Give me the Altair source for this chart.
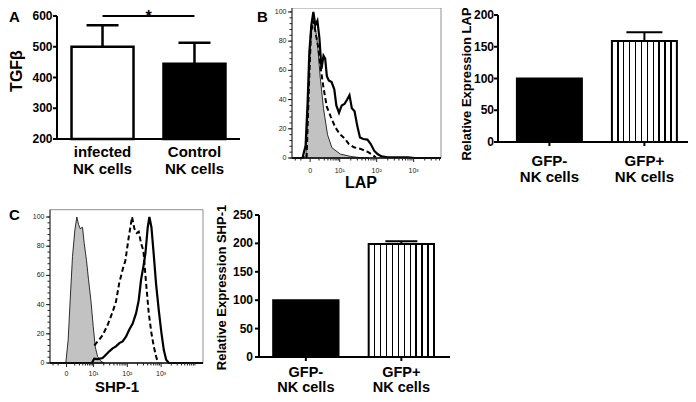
import math
import altair as alt
import pandas as pd

FONT = "Liberation Sans"
W, H = 680, 386

# ---------------- data ----------------
A_LABELS = ["infected\nNK cells", "Control\nNK cells"]
A_VALUES = [500, 445]
A_ERRORS = [70, 68]
A_SIG_LEVEL = 600
A_Y_TICKS = [200, 300, 400, 500, 600]

GFP_LABELS = ["GFP-\nNK cells", "GFP+\nNK cells"]
B_VALUES = [100, 159]
B_ERRORS = [0, 14]
B_Y_TICKS = [0, 50, 100, 150, 200]
C_VALUES = [100, 199]
C_ERRORS = [0, 5]
C_Y_TICKS = [0, 50, 100, 150, 200, 250]

# histogram x in display decades (0 -> 0.2, 10^1 -> 1, 10^2 -> 2, 10^3 -> 3)
HIST_TICKS = [0.2, 1, 2, 3]
HIST_TICK_LABELS = ["0", "10¹", "10²", "10³"]
HIST_Y_TICKS = [0, 20, 40, 60, 80, 100]
HIST_Y_MINOR = list(range(0, 101, 4))

# Panel B histogram (LAP)
B_GRAY_D = [-0.29, 0.0, 0.087, 0.151, 0.196, 0.242, 0.288, 0.333, 0.397, 0.470, 0.562,
            0.671, 0.790, 1.018, 1.292, 1.566, 1.8]
B_GRAY_V = [0, 0, 1.6, 38, 72, 93, 98, 91, 79, 56, 34, 16, 7, 2.7, 1.1, 0.2, 0]
B_DASH_D = [0.105, 0.169, 0.224, 0.288, 0.361, 0.425, 0.489, 0.562, 0.653, 0.763, 0.881,
            1.0, 1.128, 1.247, 1.384, 1.566, 1.749, 1.886, 1.977]
B_DASH_V = [0, 50, 86, 94, 84, 75, 61, 48, 35, 28, 21, 16.5, 13.5, 9.6, 7.3, 6.2, 4.3, 2.1, 0.5]
B_SOLID_D = [-0.29, -0.005, 0.078, 0.132, 0.178, 0.233, 0.288, 0.342, 0.397, 0.452, 0.507,
             0.562, 0.607, 0.653, 0.708, 0.781, 0.854, 0.909, 0.982, 1.055, 1.128, 1.201,
             1.265, 1.329, 1.402, 1.475, 1.548, 1.639, 1.749, 1.840, 1.932, 2.023, 2.132,
             2.297, 2.845, 3.03, 3.74]
B_SOLID_V = [0, 0, 8.5, 38, 72, 91, 100, 91, 94, 82, 61, 70, 68, 56, 53, 52, 47, 36, 31, 36,
             37, 40, 43, 34, 32, 22, 14, 13, 12.6, 9.6, 5, 2.7, 1.1, 0.5, 0.5, 0, 0]

# Panel C histogram (SHP-1)
C_GRAY_D = [-0.29, 0.178, 0.248, 0.307, 0.376, 0.446, 0.505, 0.554, 0.604, 0.673, 0.723,
            0.792, 0.851, 0.921, 0.990, 1.05, 1.119, 1.218, 1.317]
C_GRAY_V = [0, 0, 16, 43, 73, 91, 100, 95, 92, 93, 82, 70, 57, 43, 25, 11, 4.5, 1.1, 0]
C_DASH_D = [1.02, 1.168, 1.267, 1.416, 1.564, 1.663, 1.762, 1.861, 1.941, 2.04, 2.139,
            2.208, 2.277, 2.337, 2.406, 2.475, 2.554, 2.634, 2.713, 2.782, 2.851, 2.911]
C_DASH_V = [12, 16, 19, 26, 35, 42, 55, 64, 70, 86, 100, 92, 89, 90, 82, 77, 55, 34, 20.5,
            11.4, 4.5, 0]
C_SOLID_D = [-0.29, 0.95, 1.02, 1.119, 1.267, 1.366, 1.465, 1.564, 1.663, 1.762, 1.861,
             1.960, 2.059, 2.158, 2.257, 2.337, 2.406, 2.475, 2.535, 2.604, 2.653, 2.713,
             2.772, 2.851, 2.931, 3.010, 3.079, 3.149, 3.228, 4.24]
C_SOLID_V = [0, 0, 3, 2.7, 3.4, 5.7, 8, 10, 11.4, 13.6, 14.8, 18, 23, 27, 34, 43, 57, 66,
             75, 93, 100, 93, 77, 54, 36, 20.5, 9, 2.3, 0, 0]

B_HIST_X_DOMAIN = [-0.29, 3.74]
B_HIST_Y_DOMAIN = [0, 102.7]
C_HIST_X_DOMAIN = [-0.29, 4.24]
C_HIST_Y_DOMAIN = [0, 105]


# ---------------- helpers ----------------
def hist_minor_x(x_max):
    vals = [-0.2, -0.05] + [0.2 + 0.8 * math.log10(m) for m in range(2, 10)]
    for k in (1, 2, 3):
        vals += [k + math.log10(m) for m in range(2, 10)]
    vals.append(4)
    return [round(v, 4) for v in vals if v < x_max]


def stripes(n=11, w=0.022):
    stops = [alt.GradientStop(offset=0, color="white")]
    for k in range(1, n):
        c = k / n
        stops += [alt.GradientStop(offset=c - w / 2, color="white"),
                  alt.GradientStop(offset=c - w / 2, color="black"),
                  alt.GradientStop(offset=c + w / 2, color="black"),
                  alt.GradientStop(offset=c + w / 2, color="white")]
    stops.append(alt.GradientStop(offset=1, color="white"))
    return alt.LinearGradient(gradient="linear", stops=stops, x1=0, x2=1, y1=0, y2=0)


ONE = alt.Data(values=[{}])


def free_text(t, x, y, size, angle=0, align="center", baseline="middle"):
    return alt.Chart(ONE).mark_text(
        text=t, font=FONT, fontSize=size, fontWeight="bold", color="black",
        angle=angle, align=align, baseline=baseline).encode(x=alt.value(x), y=alt.value(y))


def bar_axes(xs, ys, cats, x_rng, y_dom, y_ticks, tick_len, label_x, x_ticks, xlab_y, line_h,
             xlab_size, title, title_x, title_y, title_size):
    """Axis lines, ticks and labels drawn as marks through the panel scales."""
    Xc = lambda: alt.X("cat:N", sort=cats, scale=xs, axis=None)
    Yv = lambda f="v:Q": alt.Y(f, scale=ys, axis=None)
    base_df = pd.DataFrame({"v": [y_dom[0]], "top": [y_dom[1]]})
    layers = [
        alt.Chart(base_df).mark_rule(color="black", strokeWidth=2).encode(
            x=alt.value(x_rng[0]), y=Yv(), y2="top:Q"),
        alt.Chart(base_df).mark_rule(color="black", strokeWidth=2).encode(
            x=alt.value(x_rng[0] - 1), x2=alt.value(x_rng[1]), y=Yv()),
    ]
    tick_df = pd.DataFrame({"v": y_ticks})
    layers.append(alt.Chart(tick_df).mark_rule(color="black", strokeWidth=2).encode(
        x=alt.value(x_rng[0] - tick_len), x2=alt.value(x_rng[0]), y=Yv()))
    layers.append(alt.Chart(tick_df).mark_text(
        font=FONT, fontSize=12, fontWeight="bold", color="black", align="right",
        baseline="middle").encode(x=alt.value(label_x), y=Yv(), text="v:Q"))
    cat_df = pd.DataFrame({"cat": cats, "v": [y_dom[0]] * len(cats)})
    if x_ticks:
        layers.append(alt.Chart(cat_df).mark_tick(
            orient="vertical", size=4, thickness=2, color="black", opacity=1, yOffset=2).encode(
            x=Xc(), y=Yv()))
    layers.append(alt.Chart(cat_df).mark_text(
        font=FONT, fontSize=xlab_size, fontWeight="bold", color="black", align="center",
        baseline="top", lineBreak="\n", lineHeight=line_h).encode(
        x=Xc(), y=alt.value(xlab_y), text="cat:N"))
    layers.append(free_text(title, title_x, title_y, title_size, angle=270))
    return layers


# ---------------- Panel A ----------------
def panel_a():
    df = pd.DataFrame({"cat": A_LABELS, "value": A_VALUES, "err": A_ERRORS})
    xs = alt.Scale(domain=A_LABELS, range=[49, 232], paddingInner=0.326, paddingOuter=0.158)
    ys = alt.Scale(domain=[200, 600], range=[131, 8], zero=False, nice=False)
    Xc = lambda: alt.X("cat:N", sort=A_LABELS, scale=xs, axis=None)
    fills = alt.Fill("cat:N", scale=alt.Scale(domain=A_LABELS, range=["white", "black"]),
                     legend=None)
    err_base = alt.Chart(df).transform_calculate(top="datum.value + datum.err")
    err = err_base.mark_rule(color="black", strokeWidth=2.5).encode(
        x=Xc(), y=alt.Y("value:Q", scale=ys, axis=None), y2="top:Q")
    cap = err_base.mark_tick(color="black", size=32, thickness=2.5, opacity=1).encode(
        x=Xc(), y=alt.Y("top:Q", scale=ys, axis=None))
    bars = alt.Chart(df).mark_bar(stroke="black", strokeWidth=2.5).encode(
        x=Xc(), y=alt.Y("value:Q", scale=ys, axis=None), y2=alt.datum(200), fill=fills)
    sig_df = pd.DataFrame({"cat": A_LABELS, "y": [A_SIG_LEVEL] * 2})
    sig = alt.Chart(sig_df).mark_line(color="black", strokeWidth=2).encode(
        x=Xc(), y=alt.Y("y:Q", scale=ys, axis=None))
    star = alt.Chart(sig_df.iloc[:1]).mark_text(
        text="*", dx=46, dy=-7.5, fontSize=16, fontWeight="bold", font=FONT,
        baseline="top", color="black").encode(
        x=Xc(), y=alt.Y("y:Q", scale=ys, axis=None))
    axes = bar_axes(xs, ys, A_LABELS, [49, 232], [200, 600], A_Y_TICKS, 4, 44.5, False, 137, 17,
                    15, "TGFβ", 9, 63, 16)
    return alt.layer(err, cap, bars, sig, star, *axes)


# ---------------- GFP bar panels ----------------
def gfp_panel(values, errors, y_dom, y_ticks, x_rng, y_rng, align, title, title_x, title_y,
              cap_size, tick_len, label_x, xlab_y, line_h, xlab_size):
    df = pd.DataFrame({"cat": GFP_LABELS, "value": values, "err": errors})
    xs = alt.Scale(domain=GFP_LABELS, range=x_rng, paddingInner=0.316, paddingOuter=0.158,
                   align=align)
    ys = alt.Scale(domain=y_dom, range=y_rng, zero=True, nice=False)
    Xc = lambda: alt.X("cat:N", sort=GFP_LABELS, scale=xs, axis=None)
    base = alt.Chart(df)
    err_base = base.transform_filter("datum.err > 0").transform_calculate(
        top="datum.value + datum.err")
    err = err_base.mark_rule(color="black", strokeWidth=2).encode(
        x=Xc(), y=alt.Y("value:Q", scale=ys, axis=None), y2="top:Q")
    cap = err_base.mark_tick(color="black", size=cap_size, thickness=2, opacity=1).encode(
        x=Xc(), y=alt.Y("top:Q", scale=ys, axis=None))
    neg = base.transform_filter(
        alt.FieldEqualPredicate(field="cat", equal=GFP_LABELS[0])).mark_bar(
        fill="black", stroke="black", strokeWidth=2).encode(
        x=Xc(), y=alt.Y("value:Q", scale=ys, axis=None), y2=alt.datum(0))
    pos = base.transform_filter(
        alt.FieldEqualPredicate(field="cat", equal=GFP_LABELS[1])).mark_bar(
        fill=stripes(), stroke="black", strokeWidth=2).encode(
        x=Xc(), y=alt.Y("value:Q", scale=ys, axis=None), y2=alt.datum(0))
    axes = bar_axes(xs, ys, GFP_LABELS, x_rng, y_dom, y_ticks, tick_len, label_x, True, xlab_y,
                    line_h, xlab_size, title, title_x, title_y, 13)
    return alt.layer(err, cap, neg, pos, *axes)


# ---------------- histogram panels ----------------
def hist_panel(x_dom, x_rng, y_dom, y_rng, gray, dash, solid, title, title_x, title_y, xlab_dy,
               title_size):
    xs = alt.Scale(domain=x_dom, range=x_rng, zero=False, nice=False)
    ys = alt.Scale(domain=y_dom, range=y_rng, zero=False, nice=False)
    Xd = lambda: alt.X("d:Q", scale=xs, axis=None)
    Yv = lambda: alt.Y("v:Q", scale=ys, axis=None)
    frame_df = pd.DataFrame({"d": [x_dom[0]], "d2": [x_dom[1]],
                             "v": [y_dom[0]], "v2": [y_dom[1]]})
    frame = alt.Chart(frame_df).mark_rect(fillOpacity=0, stroke="#8f8f8f", strokeWidth=1).encode(
        x=Xd(), x2="d2:Q", y=Yv(), y2="v2:Q")
    area = alt.Chart(pd.DataFrame({"d": gray[0], "v": gray[1]})).mark_area(
        fill="#c2c2c2", stroke="black", strokeWidth=0.8).encode(x=Xd(), y=Yv(), y2=alt.datum(0))
    dashed = alt.Chart(pd.DataFrame({"d": dash[0], "v": dash[1]})).mark_line(
        color="black", strokeWidth=2, strokeDash=[5, 3]).encode(x=Xd(), y=Yv())
    solid_l = alt.Chart(pd.DataFrame({"d": solid[0], "v": solid[1]})).mark_line(
        color="black", strokeWidth=2.2).encode(x=Xd(), y=Yv())
    yline = alt.Chart(frame_df).mark_rule(color="#333", strokeWidth=1).encode(
        x=Xd(), y=Yv(), y2="v2:Q")
    xline = alt.Chart(frame_df).mark_rule(color="#111", strokeWidth=1.3).encode(
        x=Xd(), x2="d2:Q", y=Yv())
    ymaj_df = pd.DataFrame({"v": HIST_Y_TICKS, "d": x_dom[0]})
    ymaj = alt.Chart(ymaj_df).mark_tick(
        orient="horizontal", size=4, thickness=1, color="#222", opacity=1, xOffset=-2).encode(
        x=Xd(), y=Yv())
    ymin = alt.Chart(pd.DataFrame({"v": HIST_Y_MINOR, "d": x_dom[0]})).mark_tick(
        orient="horizontal", size=2.5, thickness=1, color="#222", opacity=1,
        xOffset=-1.25).encode(x=Xd(), y=Yv())
    ylab = alt.Chart(ymaj_df).mark_text(
        font=FONT, fontSize=7, color="#222", align="right", baseline="middle", dx=-5.5).encode(
        x=Xd(), y=Yv(), text="v:Q")
    xmaj_df = pd.DataFrame({"d": HIST_TICKS, "label": HIST_TICK_LABELS, "v": y_dom[0]})
    xmaj = alt.Chart(xmaj_df).mark_tick(
        orient="vertical", size=4, thickness=1, color="#222", opacity=1, yOffset=2).encode(
        x=Xd(), y=Yv())
    xmin = alt.Chart(pd.DataFrame({"d": hist_minor_x(x_dom[1]), "v": y_dom[0]})).mark_tick(
        orient="vertical", size=2.5, thickness=1, color="#222", opacity=1,
        yOffset=1.25).encode(x=Xd(), y=Yv())
    xlab = alt.Chart(xmaj_df).mark_text(
        font=FONT, fontSize=7, color="#222", align="center", baseline="top", dy=xlab_dy).encode(
        x=Xd(), y=Yv(), text="label:N")
    ttl = free_text(title, title_x, title_y, title_size)
    return alt.layer(frame, area, dashed, solid_l, yline, xline, ymaj, ymin, ylab,
                     xmaj, xmin, xlab, ttl)


pA = panel_a()
pBh = hist_panel(B_HIST_X_DOMAIN, [284, 433], B_HIST_Y_DOMAIN, [150, 0],
                 (B_GRAY_D, B_GRAY_V), (B_DASH_D, B_DASH_V), (B_SOLID_D, B_SOLID_V),
                 "LAP", 353, 175, 9, 16)
pBb = gfp_panel(B_VALUES, B_ERRORS, [0, 200], B_Y_TICKS, [490, 680], [134, 7],
                0.63, "Relative Expression LAP", 459, 76, 36, 4, 486, 146, 16, 15)
pCh = hist_panel(C_HIST_X_DOMAIN, [42, 195], C_HIST_Y_DOMAIN, [355, 201.7],
                 (C_GRAY_D, C_GRAY_V), (C_DASH_D, C_DASH_V), (C_SOLID_D, C_SOLID_V),
                 "SHP-1", 109, 378.5, 7, 15)
pCb = gfp_panel(C_VALUES, C_ERRORS, [0, 250], C_Y_TICKS, [251, 442], [349, 207],
                0.47, "Relative Expression SHP-1", 214, 279.5, 32, 4, 245, 358, 15, 14.5)

chart = alt.layer(
    pA, pBh, pBb, pCh, pCb,
    free_text("A", 1, 2, 15, align="left", baseline="top"),
    free_text("B", 249, 2, 15, align="left", baseline="top"),
    free_text("C", 1, 200, 15, align="left", baseline="top"),
).resolve_scale(x="independent", y="independent").properties(
    width=W, height=H, autosize=alt.AutoSizeParams(type="none"), padding=0
).configure(font=FONT).configure_view(stroke=None)

chart.save("out.html", embed_options={"renderer": "svg", "actions": False})
